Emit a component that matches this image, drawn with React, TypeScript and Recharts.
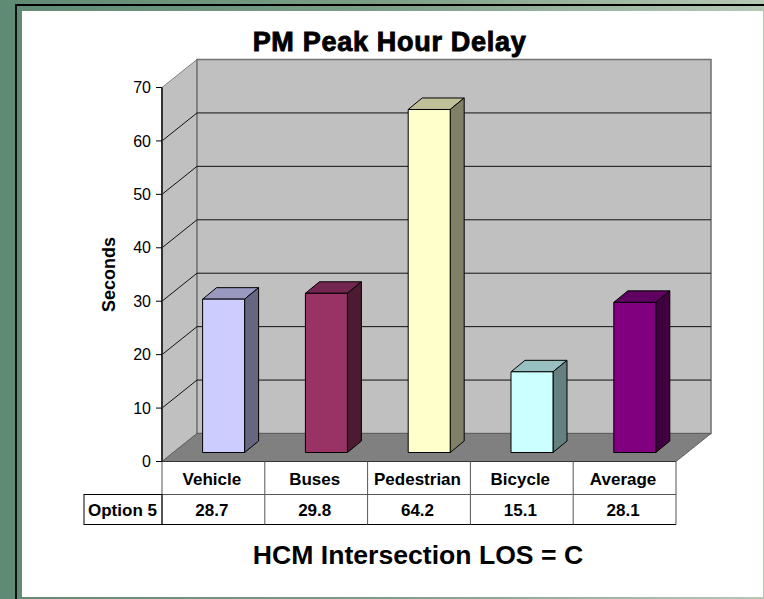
import React from "react";
import { BarChart, Bar, XAxis, YAxis, ReferenceArea, ReferenceLine } from "recharts";

const categories = ["Vehicle", "Buses", "Pedestrian", "Bicycle", "Average"];
const option5 = [28.7, 29.8, 64.2, 15.1, 28.1];
const frontColors = ["#ccccff", "#993366", "#ffffcc", "#ccffff", "#800080"];
const topColors = ["#9999c0", "#732650", "#c0c099", "#99c0c0", "#600060"];
const sideColors = ["#666680", "#4d1a33", "#808066", "#668080", "#400040"];
const yTicks = [0, 10, 20, 30, 40, 50, 60, 70];
const gridValues = [10, 20, 30, 40, 50, 60];
const rowLabel = "Option 5";
const titleText = "PM Peak Hour Delay";
const footerText = "HCM Intersection LOS = C";
const yTitle = "Seconds";

const rows = categories.map((name, i) => ({ name, value: option5[i], i }));

const FONT = "'Liberation Sans', Arial, sans-serif";
const W = 764, H = 599;
const M = { left: 100, right: 88, top: 87.5, bottom: 74.5 };
const Y_W = 62;
const PLOT_W = W - M.left - Y_W - M.right;
const BAND = PLOT_W / categories.length;
const WALL_DX = 35, WALL_DY = 28;
const BAR_DX = 14, BAR_DY = 11.5, BAR_SHIFT_X = 10.6, BAR_SHIFT_Y = 9;
const ROW1 = 33, ROW2 = 30;
const TABLE_LEFT = 78;

function Walls(p: any) {
  const { x, y, width, height } = p;
  const b = y + height, r = x + width;
  return (
    <g>
      <polygon points={`${x},${y} ${x + WALL_DX},${y - WALL_DY} ${x + WALL_DX},${b - WALL_DY} ${x},${b}`} fill="#c0c0c0" stroke="#808080" strokeWidth={1} />
      <rect x={x + WALL_DX} y={y - WALL_DY} width={width} height={height} fill="#c0c0c0" stroke="#707070" strokeWidth={1.5} />
      <polygon points={`${x},${b} ${x + WALL_DX},${b - WALL_DY} ${r + WALL_DX},${b - WALL_DY} ${r},${b}`} fill="#808080" stroke="#606060" strokeWidth={1} />
    </g>
  );
}

function GridLine(p: any) {
  const { x1, x2, y1 } = p;
  return (
    <polyline
      points={`${x1},${y1} ${x1 + WALL_DX},${y1 - WALL_DY} ${x2 + WALL_DX},${y1 - WALL_DY}`}
      fill="none"
      stroke="#111111"
      strokeWidth={1}
    />
  );
}

function Box(p: any) {
  const { x, y, width, height, index } = p;
  const l = x + BAR_SHIFT_X, t = y - BAR_SHIFT_Y, r = l + width, b = t + height;
  return (
    <g stroke="#000" strokeWidth={1} strokeLinejoin="round">
      <polygon points={`${l},${t} ${l + BAR_DX},${t - BAR_DY} ${r + BAR_DX},${t - BAR_DY} ${r},${t}`} fill={topColors[index]} />
      <polygon points={`${r},${t} ${r + BAR_DX},${t - BAR_DY} ${r + BAR_DX},${b - BAR_DY} ${r},${b}`} fill={sideColors[index]} />
      <rect x={l} y={t} width={width} height={height} fill={frontColors[index]} />
    </g>
  );
}

function TableTick(p: any) {
  const { payload, y, index } = p;
  const cx = payload.coordinate;
  const l = cx - BAND / 2, r = cx + BAND / 2;
  const textProps = { fontFamily: FONT, fontWeight: 700, fontSize: 17, fill: "#000", textAnchor: "middle" as const };
  return (
    <g>
      <line x1={r} x2={r} y1={y} y2={y + ROW1 + ROW2} stroke="#555" />
      <line x1={l} x2={r} y1={y + ROW1} y2={y + ROW1} stroke="#555" />
      <line x1={l} x2={r} y1={y + ROW1 + ROW2} y2={y + ROW1 + ROW2} stroke="#000" />
      <text x={cx - 1.5} y={y + 23} {...textProps}>{payload.value}</text>
      <text x={cx - 1.5} y={y + ROW1 + 21} {...textProps}>{option5[index]}</text>
      {index === 0 && (
        <g>
          <line x1={l} x2={l} y1={y} y2={y + ROW1 + ROW2} stroke="#555" />
          <rect x={l - TABLE_LEFT} y={y + ROW1} width={TABLE_LEFT} height={ROW2} fill="none" stroke="#000" />
          <text x={l - TABLE_LEFT / 2 - 0.5} y={y + ROW1 + 21} {...textProps}>{rowLabel}</text>
        </g>
      )}
    </g>
  );
}

export default function App() {
  const under: any = { zIndex: -200 };
  const grid: any = { zIndex: -150 };
  return (
    <div style={{ position: "absolute", left: 0, top: 0, width: W, height: H, overflow: "hidden", background: "linear-gradient(90deg,#5f8a74 0%,#7c9e86 50%,#b6c8b6 100%)" }}>
      <div style={{ position: "absolute", left: 15, top: 4, right: 0, height: 2, background: "#000" }} />
      <div style={{ position: "absolute", left: 15, top: 4, bottom: 0, width: 2, background: "#111" }} />
      <div style={{ position: "absolute", left: 22, top: 11, width: 741, height: 586, background: "#fff" }} />
      <div style={{ position: "absolute", left: 0, width: 779, top: 27, textAlign: "center", fontFamily: FONT, fontWeight: 700, fontSize: 27, letterSpacing: 0.7, lineHeight: "30px", color: "#000", WebkitTextStroke: "0.9px #000" }}>{titleText}</div>
      <div style={{ position: "absolute", left: 0, width: 836, top: 540, textAlign: "center", fontFamily: FONT, fontWeight: 700, fontSize: 26.6, lineHeight: "30px", color: "#000" }}>{footerText}</div>
      <div style={{ position: "absolute", left: 0, top: 0 }}>
        <BarChart width={W} height={H} data={rows} margin={M} barSize={42}>
          <ReferenceArea {...under} y1={0} y2={70} ifOverflow="visible" shape={Walls} />
          {gridValues.map((v) => (
            <ReferenceLine {...grid} key={v} y={v} ifOverflow="visible" shape={GridLine as any} />
          ))}
          <XAxis dataKey="name" height={63} tickLine={false} tickSize={0} tickMargin={0} axisLine={{ stroke: "#333" }} interval={0} tick={TableTick as any} />
          <YAxis
            width={Y_W}
            domain={[0, 70]}
            ticks={yTicks}
            interval={0}
            tickSize={6}
            tickMargin={5}
            axisLine={{ stroke: "#333", strokeWidth: 2 }}
            tickLine={{ stroke: "#000" }}
            tick={{ fontFamily: FONT, fontSize: 16, fill: "#000" }}
            label={{ value: yTitle, angle: -90, position: "insideLeft", offset: 9, style: { fontFamily: FONT, fontWeight: 700, fontSize: 18, fill: "#000", textAnchor: "middle" } }}
          />
          <Bar dataKey="value" isAnimationActive={false} shape={Box as any} />
        </BarChart>
      </div>
    </div>
  );
}
